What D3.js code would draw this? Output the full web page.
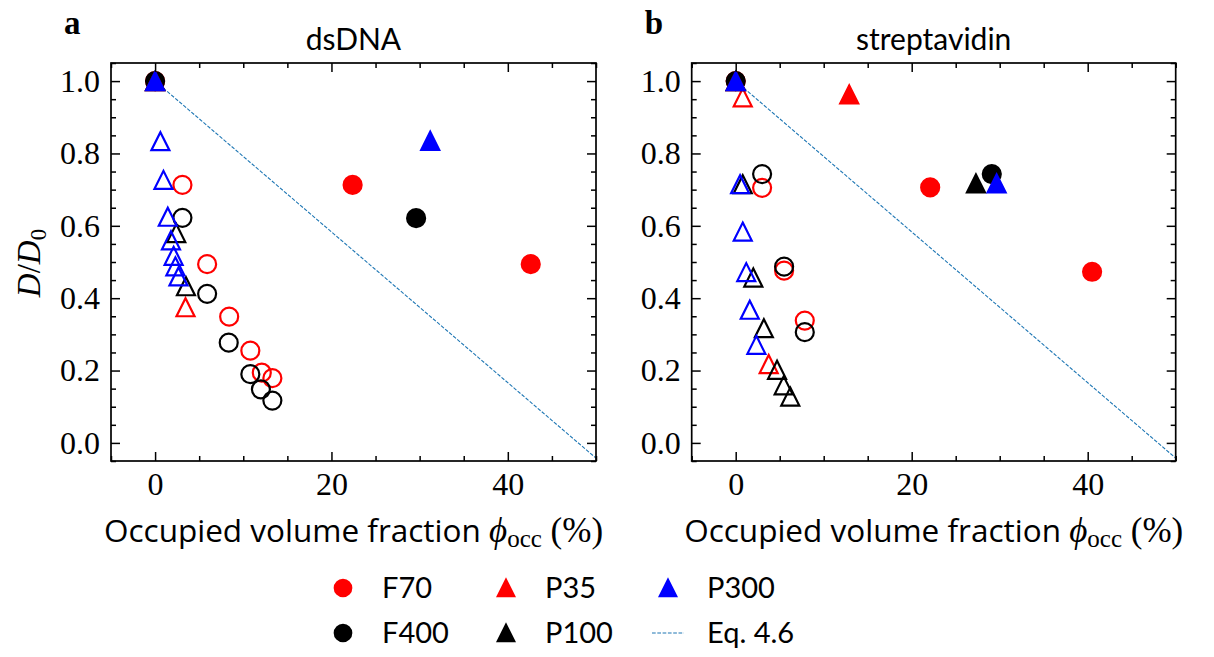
<!DOCTYPE html>
<html><head><meta charset="utf-8">
<script src="https://cdn.jsdelivr.net/npm/d3@7"></script>
<style>body{margin:0;background:#fff}svg{display:block}</style>
</head><body><svg id="c" width="1214" height="657"></svg>
<script>
// ---------- data ----------
const xTicks = [0, 20, 40];
const xMinor = [-5, 5, 10, 15, 25, 30, 35, 45, 50];
const yTicks = [0, 0.2, 0.4, 0.6, 0.8, 1.0];
const yMinor = [-0.05, 0.05, 0.1, 0.15, 0.25, 0.3, 0.35, 0.45, 0.5, 0.55, 0.65, 0.7, 0.75, 0.85, 0.9, 0.95, 1.05];
const panelTitles = ["dsDNA", "streptavidin"];
const panelLetters = ["a", "b"];
const seriesNames = ["F70", "F400", "P35", "P100", "P300"];
const seriesColors = ["#ff0000", "#000000", "#ff0000", "#000000", "#0000ff"];
const seriesShapes = ["circle", "circle", "triangle", "triangle", "triangle"];
const eqLabel = "Eq. 4.6";
const eqLine = [[0, 1.0], [50, -0.042]];

// dsDNA (panel a) — open markers
const dnaF70Open  = [[3.1,0.713],[5.9,0.494],[8.4,0.349],[10.8,0.255],[12.1,0.194],[13.3,0.179]];
const dnaF400Open = [[3.1,0.622],[5.9,0.412],[8.35,0.277],[10.8,0.19],[12.0,0.148],[13.3,0.117]];
const dnaP35Open  = [[3.45,0.375]];
const dnaP100Open = [[2.4,0.58],[3.5,0.433]];
const dnaP300Open = [[0.6,0.834],[0.95,0.727],[1.44,0.625],[1.8,0.56],[2.1,0.517],[2.3,0.488],[2.65,0.46]];
// dsDNA — filled markers
const dnaF70Fill  = [[0,1],[22.4,0.713],[42.6,0.494]];
const dnaF400Fill = [[0,1],[29.6,0.621]];
const dnaP35Fill  = [[0,1]];
const dnaP100Fill = [[0,1]];
const dnaP300Fill = [[0,1],[31.2,0.835]];

// streptavidin (panel b) — open markers
const strF70Open  = [[3.0,0.705],[5.5,0.476],[7.85,0.338]];
const strF400Open = [[3.0,0.743],[5.5,0.487],[7.85,0.306]];
const strP35Open  = [[0.8,0.955],[3.75,0.218]];
const strP100Open = [[0.8,0.715],[2.0,0.457],[3.2,0.317],[4.7,0.202],[5.45,0.159],[6.2,0.128]];
const strP300Open = [[0.5,0.715],[0.8,0.584],[1.2,0.472],[1.6,0.368],[2.35,0.271]];
// streptavidin — filled markers
const strF70Fill  = [[0,1],[22.1,0.706],[40.5,0.473]];
const strF400Fill = [[0,1],[29.1,0.743]];
const strP35Fill  = [[0,1],[12.9,0.963]];
const strP100Fill = [[0,1],[27.3,0.717]];
const strP300Fill = [[0,1],[29.65,0.717]];

const panels = [
  {open:[dnaF70Open,dnaF400Open,dnaP35Open,dnaP100Open,dnaP300Open],
   fill:[dnaF70Fill,dnaF400Fill,dnaP35Fill,dnaP100Fill,dnaP300Fill]},
  {open:[strF70Open,strF400Open,strP35Open,strP100Open,strP300Open],
   fill:[strF70Fill,strF400Fill,strP35Fill,strP100Fill,strP300Fill]}
];

// ---------- layout ----------
const svg = d3.select("#c");
const SERIF = "'Liberation Serif','DejaVu Serif',serif";
const SANS = "Lato,'Open Sans',sans-serif";
const SANS2 = "'Open Sans',Lato,sans-serif";
const plotTop = 63, plotBottom = 461;
const panelX = [[111, 596], [691.7, 1175.7]];
const MS = 18, MEW = 2.2, LMS = 16.5;

function triPath(s){ const h=s/2; return `M0,${-h}L${h},${h}L${-h},${h}Z`; }

const y = d3.scaleLinear().domain([-0.05, 1.05]).range([plotBottom, plotTop]);

svg.append("defs").selectAll("clipPath").data(panelX).join("clipPath")
  .attr("id",(d,i)=>"clip"+i)
  .append("rect").attr("x",d=>d[0]).attr("y",plotTop).attr("width",d=>d[1]-d[0]).attr("height",plotBottom-plotTop);

panels.forEach((p, pi) => {
  const [x0, x1] = panelX[pi];
  const x = d3.scaleLinear().domain([-5, 50]).range([x0, x1]);
  const g = svg.append("g");

  // eq line
  g.append("path").datum(eqLine)
    .attr("clip-path", `url(#clip${pi})`)
    .attr("d", d3.line().x(d=>x(d[0])).y(d=>y(d[1])))
    .attr("fill","none").attr("stroke","#1f77b4").attr("stroke-width",1.1)
    .attr("stroke-dasharray","3.7,1.6");

  // markers
  const mg = g.append("g").attr("clip-path", `url(#clip${pi})`);
  seriesNames.forEach((nm, si) => {
    const col = seriesColors[si], shape = seriesShapes[si];
    [["open", p.open[si]], ["fill", p.fill[si]]].forEach(([kind, data]) => {
      const sel = mg.selectAll(null).data(data).join(shape === "circle" ? "circle" : "path");
      if (shape === "circle") {
        sel.attr("cx", d=>x(d[0])).attr("cy", d=>y(d[1])).attr("r", MS/2);
      } else {
        sel.attr("d", triPath(MS)).attr("transform", d=>`translate(${x(d[0])},${y(d[1])})`)
           .attr("stroke-linejoin","miter");
      }
      sel.attr("fill", kind === "fill" ? col : "none")
         .attr("stroke", col).attr("stroke-width", MEW);
    });
  });

  // axes (inward ticks on all sides)
  const tickStyle = s => { s.select(".domain").remove();
    s.selectAll(".tick line").attr("stroke","#000").attr("stroke-width",1.5); };
  g.append("g").attr("transform",`translate(0,${plotBottom})`)
    .call(d3.axisBottom(x).tickValues(xTicks).tickSize(-9).tickPadding(11).tickFormat(d3.format("d")))
    .call(tickStyle)
    .call(s=>s.selectAll("text").attr("font-family",SERIF).attr("font-size",32).attr("fill","#000"));
  g.append("g").attr("transform",`translate(0,${plotBottom})`)
    .call(d3.axisBottom(x).tickValues(xMinor).tickSize(-5).tickFormat("")).call(tickStyle);
  g.append("g").attr("transform",`translate(0,${plotTop})`)
    .call(d3.axisTop(x).tickValues(xTicks).tickSize(-9).tickFormat("")).call(tickStyle);
  g.append("g").attr("transform",`translate(0,${plotTop})`)
    .call(d3.axisTop(x).tickValues(xMinor).tickSize(-5).tickFormat("")).call(tickStyle);
  g.append("g").attr("transform",`translate(${x0},0)`)
    .call(d3.axisLeft(y).tickValues(yTicks).tickSize(-9).tickPadding(11).tickFormat(d3.format(".1f")))
    .call(tickStyle)
    .call(s=>s.selectAll("text").attr("font-family",SERIF).attr("font-size",32).attr("fill","#000"));
  g.append("g").attr("transform",`translate(${x0},0)`)
    .call(d3.axisLeft(y).tickValues(yMinor).tickSize(-5).tickFormat("")).call(tickStyle);
  g.append("g").attr("transform",`translate(${x1},0)`)
    .call(d3.axisRight(y).tickValues(yTicks).tickSize(-9).tickFormat("")).call(tickStyle);
  g.append("g").attr("transform",`translate(${x1},0)`)
    .call(d3.axisRight(y).tickValues(yMinor).tickSize(-5).tickFormat("")).call(tickStyle);

  // frame
  g.append("rect").attr("x",x0).attr("y",plotTop).attr("width",x1-x0).attr("height",plotBottom-plotTop)
    .attr("fill","none").attr("stroke","#000").attr("stroke-width",1.7);

  // title & letter
  const cx = (x0 + x1) / 2;
  g.append("text").attr("x",cx).attr("y",50).attr("text-anchor","middle")
    .attr("font-family",SANS).attr("font-size",30).text(panelTitles[pi]);
  g.append("text").attr("x",x0-47).attr("y",34)
    .attr("font-family",SERIF).attr("font-weight","bold").attr("font-size",33).text(panelLetters[pi]);

  // x label
  const xl = g.append("text").attr("x",cx).attr("y",542).attr("text-anchor","middle")
    .attr("font-family",SANS2).attr("font-size",31.5);
  xl.append("tspan").text("Occupied volume fraction ");
  xl.append("tspan").attr("font-family",SERIF).attr("font-style","italic").attr("font-size",35).text("ϕ");
  xl.append("tspan").attr("font-family",SERIF).attr("font-size",25).attr("dy",5).text("occ");
  xl.append("tspan").attr("font-family",SERIF).attr("font-size",35).attr("dy",-5).text(" (%)");
});

// y label
const yl = svg.append("text").attr("transform","translate(40,263) rotate(-90)")
  .attr("text-anchor","middle").attr("font-family",SERIF).attr("font-size",33);
yl.append("tspan").attr("font-style","italic").text("D");
yl.append("tspan").text("/");
yl.append("tspan").attr("font-style","italic").text("D");
yl.append("tspan").attr("font-size",23).attr("dy",6).text("0");

// legend
const legendCols = [343, 506, 668];
const legendRows = [588, 633];
const legendItems = [
  {name:seriesNames[0], si:0, col:0, row:0},
  {name:seriesNames[1], si:1, col:0, row:1},
  {name:seriesNames[2], si:2, col:1, row:0},
  {name:seriesNames[3], si:3, col:1, row:1},
  {name:seriesNames[4], si:4, col:2, row:0},
  {name:eqLabel, si:-1, col:2, row:1}
];
const lg = svg.append("g");
legendItems.forEach(it => {
  const mx = legendCols[it.col], my = legendRows[it.row];
  if (it.si < 0) {
    lg.append("line").attr("x1",mx-16).attr("x2",mx+16).attr("y1",my).attr("y2",my)
      .attr("stroke","#1f77b4").attr("stroke-width",1.1).attr("stroke-dasharray","3.7,1.6");
  } else if (seriesShapes[it.si] === "circle") {
    lg.append("circle").attr("cx",mx).attr("cy",my).attr("r",LMS/2)
      .attr("fill",seriesColors[it.si]).attr("stroke",seriesColors[it.si]).attr("stroke-width",MEW);
  } else {
    lg.append("path").attr("d",triPath(LMS)).attr("transform",`translate(${mx},${my})`)
      .attr("fill",seriesColors[it.si]).attr("stroke",seriesColors[it.si]).attr("stroke-width",MEW);
  }
  lg.append("text").attr("x",mx+39).attr("y",my).attr("dy","0.36em")
    .attr("font-family",SANS).attr("font-size",29).text(it.name);
});
</script></body></html>
